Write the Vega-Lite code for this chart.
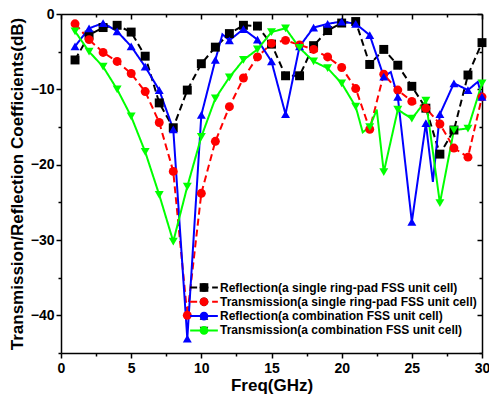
{
  "$schema": "https://vega.github.io/schema/vega-lite/v6.json",
  "width": 421,
  "height": 339,
  "autosize": "none",
  "padding": {"left": 61, "top": 14, "right": 7, "bottom": 45},
  "background": "white",
  "config": {"view": {"stroke": null}, "font": "Liberation Sans"},
  "datasets": {
    "d": [
      {"s": "Reflection(a single ring-pad FSS unit cell)", "f": 1, "v": -6.1},
      {"s": "Reflection(a single ring-pad FSS unit cell)", "f": 2, "v": -2.8},
      {"s": "Reflection(a single ring-pad FSS unit cell)", "f": 3, "v": -1.8},
      {"s": "Reflection(a single ring-pad FSS unit cell)", "f": 4, "v": -1.5},
      {"s": "Reflection(a single ring-pad FSS unit cell)", "f": 5, "v": -2.4},
      {"s": "Reflection(a single ring-pad FSS unit cell)", "f": 6, "v": -5.6},
      {"s": "Reflection(a single ring-pad FSS unit cell)", "f": 7, "v": -11.8},
      {"s": "Reflection(a single ring-pad FSS unit cell)", "f": 8, "v": -15.1},
      {"s": "Reflection(a single ring-pad FSS unit cell)", "f": 9, "v": -10.1},
      {"s": "Reflection(a single ring-pad FSS unit cell)", "f": 10, "v": -6.6},
      {"s": "Reflection(a single ring-pad FSS unit cell)", "f": 11, "v": -4.4},
      {"s": "Reflection(a single ring-pad FSS unit cell)", "f": 12, "v": -2.6},
      {"s": "Reflection(a single ring-pad FSS unit cell)", "f": 13, "v": -1.5},
      {"s": "Reflection(a single ring-pad FSS unit cell)", "f": 14, "v": -1.6},
      {"s": "Reflection(a single ring-pad FSS unit cell)", "f": 15, "v": -4.0},
      {"s": "Reflection(a single ring-pad FSS unit cell)", "f": 16, "v": -8.2},
      {"s": "Reflection(a single ring-pad FSS unit cell)", "f": 17, "v": -8.2},
      {"s": "Reflection(a single ring-pad FSS unit cell)", "f": 18, "v": -4.2},
      {"s": "Reflection(a single ring-pad FSS unit cell)", "f": 19, "v": -2.2},
      {"s": "Reflection(a single ring-pad FSS unit cell)", "f": 20, "v": -1.2},
      {"s": "Reflection(a single ring-pad FSS unit cell)", "f": 21, "v": -1.0},
      {"s": "Reflection(a single ring-pad FSS unit cell)", "f": 22, "v": -6.7},
      {"s": "Reflection(a single ring-pad FSS unit cell)", "f": 23, "v": -4.7},
      {"s": "Reflection(a single ring-pad FSS unit cell)", "f": 24, "v": -6.8},
      {"s": "Reflection(a single ring-pad FSS unit cell)", "f": 25, "v": -9.6},
      {"s": "Reflection(a single ring-pad FSS unit cell)", "f": 26, "v": -12.5},
      {"s": "Reflection(a single ring-pad FSS unit cell)", "f": 27, "v": -18.6},
      {"s": "Reflection(a single ring-pad FSS unit cell)", "f": 28, "v": -15.4},
      {"s": "Reflection(a single ring-pad FSS unit cell)", "f": 29, "v": -8.1},
      {"s": "Reflection(a single ring-pad FSS unit cell)", "f": 30, "v": -3.8},
      {"s": "Transmission(a single ring-pad FSS unit cell)", "f": 1, "v": -1.3},
      {"s": "Transmission(a single ring-pad FSS unit cell)", "f": 2, "v": -3.4},
      {"s": "Transmission(a single ring-pad FSS unit cell)", "f": 3, "v": -5.1},
      {"s": "Transmission(a single ring-pad FSS unit cell)", "f": 4, "v": -6.3},
      {"s": "Transmission(a single ring-pad FSS unit cell)", "f": 5, "v": -7.9},
      {"s": "Transmission(a single ring-pad FSS unit cell)", "f": 6, "v": -10.3},
      {"s": "Transmission(a single ring-pad FSS unit cell)", "f": 7, "v": -14.4},
      {"s": "Transmission(a single ring-pad FSS unit cell)", "f": 8, "v": -20.9},
      {"s": "Transmission(a single ring-pad FSS unit cell)", "f": 9, "v": -40.0},
      {"s": "Transmission(a single ring-pad FSS unit cell)", "f": 10, "v": -23.8},
      {"s": "Transmission(a single ring-pad FSS unit cell)", "f": 11, "v": -16.9},
      {"s": "Transmission(a single ring-pad FSS unit cell)", "f": 12, "v": -12.3},
      {"s": "Transmission(a single ring-pad FSS unit cell)", "f": 13, "v": -8.5},
      {"s": "Transmission(a single ring-pad FSS unit cell)", "f": 14, "v": -5.7},
      {"s": "Transmission(a single ring-pad FSS unit cell)", "f": 15, "v": -3.9},
      {"s": "Transmission(a single ring-pad FSS unit cell)", "f": 16, "v": -3.5},
      {"s": "Transmission(a single ring-pad FSS unit cell)", "f": 17, "v": -4.1},
      {"s": "Transmission(a single ring-pad FSS unit cell)", "f": 18, "v": -4.7},
      {"s": "Transmission(a single ring-pad FSS unit cell)", "f": 19, "v": -5.7},
      {"s": "Transmission(a single ring-pad FSS unit cell)", "f": 20, "v": -7.1},
      {"s": "Transmission(a single ring-pad FSS unit cell)", "f": 21, "v": -9.9},
      {"s": "Transmission(a single ring-pad FSS unit cell)", "f": 22, "v": -15.3},
      {"s": "Transmission(a single ring-pad FSS unit cell)", "f": 23, "v": -8.0},
      {"s": "Transmission(a single ring-pad FSS unit cell)", "f": 24, "v": -10.1},
      {"s": "Transmission(a single ring-pad FSS unit cell)", "f": 25, "v": -11.6},
      {"s": "Transmission(a single ring-pad FSS unit cell)", "f": 26, "v": -12.5},
      {"s": "Transmission(a single ring-pad FSS unit cell)", "f": 27, "v": -14.6},
      {"s": "Transmission(a single ring-pad FSS unit cell)", "f": 28, "v": -17.8},
      {"s": "Transmission(a single ring-pad FSS unit cell)", "f": 29, "v": -19.0},
      {"s": "Transmission(a single ring-pad FSS unit cell)", "f": 30, "v": -11.0},
      {"s": "Reflection(a combination FSS unit cell)", "f": 1, "v": -4.3},
      {"s": "Reflection(a combination FSS unit cell)", "f": 2, "v": -1.9},
      {"s": "Reflection(a combination FSS unit cell)", "f": 3, "v": -1.2},
      {"s": "Reflection(a combination FSS unit cell)", "f": 4, "v": -2.3},
      {"s": "Reflection(a combination FSS unit cell)", "f": 5, "v": -4.3},
      {"s": "Reflection(a combination FSS unit cell)", "f": 6, "v": -7.0},
      {"s": "Reflection(a combination FSS unit cell)", "f": 7, "v": -10.1},
      {"s": "Reflection(a combination FSS unit cell)", "f": 8, "v": -15.3},
      {"s": "Reflection(a combination FSS unit cell)", "f": 9, "v": -43.1},
      {"s": "Reflection(a combination FSS unit cell)", "f": 10, "v": -13.4},
      {"s": "Reflection(a combination FSS unit cell)", "f": 11, "v": -6.1},
      {"s": "Reflection(a combination FSS unit cell)", "f": 11.5, "v": -2.7},
      {"s": "Reflection(a combination FSS unit cell)", "f": 12, "v": -3.5},
      {"s": "Reflection(a combination FSS unit cell)", "f": 13, "v": -2.0},
      {"s": "Reflection(a combination FSS unit cell)", "f": 14, "v": -3.4},
      {"s": "Reflection(a combination FSS unit cell)", "f": 15, "v": -6.3},
      {"s": "Reflection(a combination FSS unit cell)", "f": 16, "v": -13.3},
      {"s": "Reflection(a combination FSS unit cell)", "f": 17, "v": -4.3},
      {"s": "Reflection(a combination FSS unit cell)", "f": 18, "v": -1.8},
      {"s": "Reflection(a combination FSS unit cell)", "f": 19, "v": -1.3},
      {"s": "Reflection(a combination FSS unit cell)", "f": 20, "v": -1.0},
      {"s": "Reflection(a combination FSS unit cell)", "f": 21, "v": -1.3},
      {"s": "Reflection(a combination FSS unit cell)", "f": 22, "v": -2.8},
      {"s": "Reflection(a combination FSS unit cell)", "f": 23, "v": -8.3},
      {"s": "Reflection(a combination FSS unit cell)", "f": 23.5, "v": -7.7},
      {"s": "Reflection(a combination FSS unit cell)", "f": 24, "v": -11.0},
      {"s": "Reflection(a combination FSS unit cell)", "f": 25, "v": -27.6},
      {"s": "Reflection(a combination FSS unit cell)", "f": 26, "v": -14.5},
      {"s": "Reflection(a combination FSS unit cell)", "f": 26.5, "v": -22.3},
      {"s": "Reflection(a combination FSS unit cell)", "f": 27, "v": -13.3},
      {"s": "Reflection(a combination FSS unit cell)", "f": 28, "v": -9.2},
      {"s": "Reflection(a combination FSS unit cell)", "f": 29, "v": -10.1},
      {"s": "Reflection(a combination FSS unit cell)", "f": 29.7, "v": -9.0},
      {"s": "Reflection(a combination FSS unit cell)", "f": 30, "v": -11.0},
      {"s": "Transmission(a combination FSS unit cell)", "f": 1, "v": -2.3},
      {"s": "Transmission(a combination FSS unit cell)", "f": 2, "v": -5.0},
      {"s": "Transmission(a combination FSS unit cell)", "f": 3, "v": -7.0},
      {"s": "Transmission(a combination FSS unit cell)", "f": 4, "v": -10.0},
      {"s": "Transmission(a combination FSS unit cell)", "f": 5, "v": -13.6},
      {"s": "Transmission(a combination FSS unit cell)", "f": 6, "v": -18.3},
      {"s": "Transmission(a combination FSS unit cell)", "f": 7, "v": -24.0},
      {"s": "Transmission(a combination FSS unit cell)", "f": 8, "v": -30.2},
      {"s": "Transmission(a combination FSS unit cell)", "f": 9, "v": -22.9},
      {"s": "Transmission(a combination FSS unit cell)", "f": 10, "v": -16.3},
      {"s": "Transmission(a combination FSS unit cell)", "f": 11, "v": -11.2},
      {"s": "Transmission(a combination FSS unit cell)", "f": 12, "v": -8.4},
      {"s": "Transmission(a combination FSS unit cell)", "f": 13, "v": -6.1},
      {"s": "Transmission(a combination FSS unit cell)", "f": 14, "v": -4.7},
      {"s": "Transmission(a combination FSS unit cell)", "f": 15, "v": -2.4},
      {"s": "Transmission(a combination FSS unit cell)", "f": 16, "v": -1.9},
      {"s": "Transmission(a combination FSS unit cell)", "f": 17, "v": -4.5},
      {"s": "Transmission(a combination FSS unit cell)", "f": 18, "v": -6.3},
      {"s": "Transmission(a combination FSS unit cell)", "f": 19, "v": -7.2},
      {"s": "Transmission(a combination FSS unit cell)", "f": 20, "v": -9.2},
      {"s": "Transmission(a combination FSS unit cell)", "f": 21, "v": -12.3},
      {"s": "Transmission(a combination FSS unit cell)", "f": 21.5, "v": -15.7},
      {"s": "Transmission(a combination FSS unit cell)", "f": 22, "v": -15.0},
      {"s": "Transmission(a combination FSS unit cell)", "f": 22.5, "v": -12.7},
      {"s": "Transmission(a combination FSS unit cell)", "f": 23, "v": -21.0},
      {"s": "Transmission(a combination FSS unit cell)", "f": 24, "v": -12.7},
      {"s": "Transmission(a combination FSS unit cell)", "f": 25, "v": -13.9},
      {"s": "Transmission(a combination FSS unit cell)", "f": 26, "v": -11.5},
      {"s": "Transmission(a combination FSS unit cell)", "f": 27, "v": -25.1},
      {"s": "Transmission(a combination FSS unit cell)", "f": 28, "v": -15.4},
      {"s": "Transmission(a combination FSS unit cell)", "f": 29, "v": -15.2},
      {"s": "Transmission(a combination FSS unit cell)", "f": 30, "v": -9.2}
    ]
  },
  "data": {"name": "d"},
  "layer": [
    {
      "mark": {"type": "line", "strokeWidth": 2},
      "encoding": {
        "x": {
          "field": "f", "type": "quantitative",
          "scale": {"domain": [0, 30], "nice": false, "zero": false},
          "axis": {
            "orient": "bottom",
            "values": [0, 2.5, 5, 7.5, 10, 12.5, 15, 17.5, 20, 22.5, 25, 27.5, 30],
            "labelExpr": "datum.value % 5 === 0 ? datum.label : ''",
            "tickSize": {"condition": {"test": "datum.value % 5 === 0", "value": 5}, "value": 3},
            "tickWidth": 1.5, "tickColor": "black",
            "domainColor": "black", "domainWidth": 1.5,
            "grid": false,
            "labelFont": "Liberation Sans", "labelFontWeight": "bold", "labelFontSize": 14, "labelColor": "black",
            "labelPadding": 3, "labelFlush": false, "labelOverlap": false,
            "title": "Freq(GHz)", "titleFont": "Liberation Sans", "titleFontSize": 17, "titleFontWeight": "bold", "titleColor": "black",
            "titlePadding": 2
          }
        },
        "y": {
          "field": "v", "type": "quantitative",
          "scale": {"domain": [-45, 0], "nice": false, "zero": false},
          "axis": {
            "orient": "left",
            "values": [0, -5, -10, -15, -20, -25, -30, -35, -40, -45],
            "labelExpr": "datum.value % 10 === 0 ? datum.label : ''",
            "tickSize": {"condition": {"test": "datum.value % 10 === 0", "value": 5}, "value": 3},
            "tickWidth": 1.5, "tickColor": "black",
            "domainColor": "black", "domainWidth": 1.5,
            "grid": false,
            "labelFont": "Liberation Sans", "labelFontWeight": "bold", "labelFontSize": 14, "labelColor": "black",
            "labelPadding": 2, "labelFlush": false, "labelOverlap": false,
            "title": "Transmission/Reflection Coefficients(dB)", "titleFont": "Liberation Sans", "titleFontSize": 17, "titleFontWeight": "bold", "titleColor": "black",
            "titlePadding": 4
          }
        },
        "stroke": {
          "field": "s", "type": "nominal",
          "scale": {
            "domain": ["Reflection(a single ring-pad FSS unit cell)", "Transmission(a single ring-pad FSS unit cell)", "Reflection(a combination FSS unit cell)", "Transmission(a combination FSS unit cell)"],
            "range": ["#000000", "#ff0000", "#0000ff", "#00ff00"]
          },
          "legend": {
            "orient": "none", "legendX": 137, "legendY": 267.5, "title": null, "padding": 0,
            "symbolType": "M-3.2,0H3.2", "symbolSize": 75, "symbolStrokeWidth": 2,
            "labelFont": "Liberation Sans", "labelFontSize": 12, "labelFontWeight": "bold", "labelColor": "black",
            "labelOffset": 10, "rowPadding": 2.3, "labelLimit": 400
          }
        },
        "strokeDash": {
          "field": "s", "type": "nominal",
          "scale": {
            "domain": ["Reflection(a single ring-pad FSS unit cell)", "Transmission(a single ring-pad FSS unit cell)", "Reflection(a combination FSS unit cell)", "Transmission(a combination FSS unit cell)"],
            "range": [[7, 4], [7, 4], [1, 0], [1, 0]]
          },
          "legend": {
            "orient": "none", "legendX": 137, "legendY": 267.5, "title": null, "padding": 0,
            "symbolType": "M-3.2,0H3.2", "symbolSize": 75, "symbolStrokeWidth": 2,
            "labelFont": "Liberation Sans", "labelFontSize": 12, "labelFontWeight": "bold", "labelColor": "black",
            "labelOffset": 10, "rowPadding": 2.3, "labelLimit": 400
          }
        }
      }
    },
    {
      "transform": [{"filter": "datum.f % 1 === 0"}],
      "mark": {"type": "point", "filled": true, "size": 80, "opacity": 1},
      "encoding": {
        "x": {
          "field": "f", "type": "quantitative",
          "axis": {
            "orient": "top",
            "values": [0, 2.5, 5, 7.5, 10, 12.5, 15, 17.5, 20, 22.5, 25, 27.5, 30],
            "labels": false, "title": null,
            "tickSize": {"condition": {"test": "datum.value % 5 === 0", "value": -5}, "value": -3},
            "tickWidth": 1.5, "tickColor": "black",
            "domainColor": "black", "domainWidth": 1.5, "grid": false
          }
        },
        "y": {
          "field": "v", "type": "quantitative",
          "axis": {
            "orient": "right",
            "values": [0, -5, -10, -15, -20, -25, -30, -35, -40, -45],
            "labels": false, "title": null,
            "tickSize": {"condition": {"test": "datum.value % 10 === 0", "value": -5}, "value": -3},
            "tickWidth": 1.5, "tickColor": "black",
            "domainColor": "black", "domainWidth": 1.5, "grid": false
          }
        },
        "fill": {
          "field": "s", "type": "nominal",
          "sort": ["Reflection(a single ring-pad FSS unit cell)", "Transmission(a single ring-pad FSS unit cell)", "Reflection(a combination FSS unit cell)", "Transmission(a combination FSS unit cell)"],
          "scale": {"range": ["#000000", "#ff0000", "#0000ff", "#00ff00"]},
          "legend": {
            "orient": "none", "legendX": 137, "legendY": 267.5, "title": null, "padding": 0,
            "symbolSize": 75, "symbolStrokeWidth": 0,
            "labelFont": "Liberation Sans", "labelFontSize": 12, "labelFontWeight": "bold", "labelOpacity": 0,
            "labelOffset": 10, "rowPadding": 2.3, "labelLimit": 400
          }
        },
        "shape": {
          "field": "s", "type": "nominal",
          "sort": ["Reflection(a single ring-pad FSS unit cell)", "Transmission(a single ring-pad FSS unit cell)", "Reflection(a combination FSS unit cell)", "Transmission(a combination FSS unit cell)"],
          "scale": {"range": ["square", "circle", "triangle-up", "triangle-down"]},
          "legend": {
            "orient": "none", "legendX": 137, "legendY": 267.5, "title": null, "padding": 0,
            "symbolSize": 75, "symbolStrokeWidth": 0,
            "labelFont": "Liberation Sans", "labelFontSize": 12, "labelFontWeight": "bold", "labelOpacity": 0,
            "labelOffset": 10, "rowPadding": 2.3, "labelLimit": 400
          }
        }
      }
    }
  ],
  "resolve": {"axis": {"x": "independent", "y": "independent"}}
}
